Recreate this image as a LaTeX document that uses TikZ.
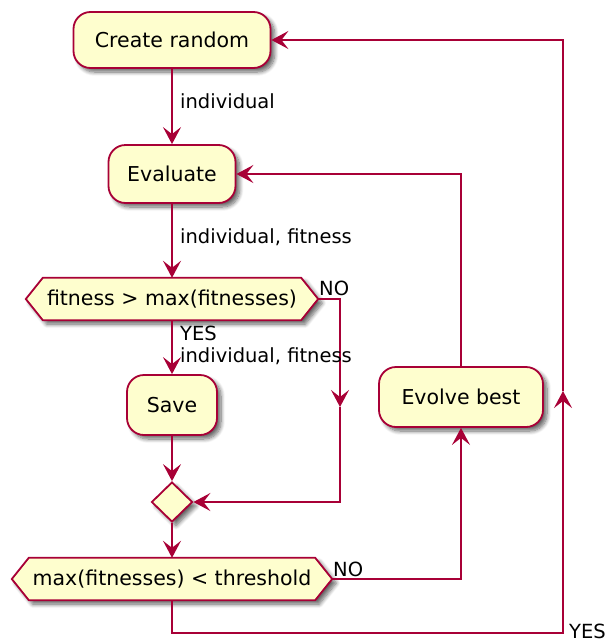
\documentclass[tikz,border=0pt]{standalone}
\usepackage{fontspec}
\setmainfont{DejaVu Sans}
\usetikzlibrary{arrows.meta,shapes.geometric,shadows.blur,backgrounds,calc}
\definecolor{pumlborder}{HTML}{A80036}
\definecolor{pumlfill}{HTML}{FEFECE}
\tikzset{
  shad/.style={blur shadow={shadow xshift=4pt,shadow yshift=-4pt,shadow blur radius=4pt,shadow blur steps=8,shadow opacity=60}},
  actbox/.style={draw=pumlborder,fill=pumlfill,line width=1.8pt,rounded corners=17pt,
    inner sep=0pt,font=\fontsize{20.5}{24}\selectfont,shad},
  hexnode/.style={inner sep=0pt,font=\fontsize{20.5}{24}\selectfont},
  hexshape/.style={draw=pumlborder,fill=pumlfill,line width=1.8pt,shad},
  merge/.style={diamond,draw=pumlborder,fill=pumlfill,line width=1.8pt,inner sep=0pt,
    minimum width=41pt,minimum height=40pt,shad},
  flow/.style={draw=pumlborder,line width=1.8pt,-{Stealth[length=17pt,width=18pt,inset=7pt]}},
  lbl/.style={inner sep=0pt,font=\fontsize{19.5}{22}\selectfont}
}
\begin{document}
\begin{tikzpicture}[x=1pt,y=-1pt]
\useasboundingbox (0,0) rectangle (610,643);

% nodes
\node[actbox,minimum width=197pt,minimum height=56pt] (cr) at (172,40) {Create random};
\node[actbox,minimum width=127pt,minimum height=58pt] (ev) at (172,174) {Evaluate};
\node[hexnode,minimum width=292pt,minimum height=42pt] (d1) at (172,299) {fitness > max(fitnesses)};
\node[actbox,minimum width=90pt,minimum height=60pt] (sv) at (172,405) {Save};
\node[merge] (mg) at (172,502) {};
\node[hexnode,minimum width=320pt,minimum height=42pt] (d2) at (172,579) {max(fitnesses) < threshold};
\node[actbox,minimum width=164pt,minimum height=60pt] (eb) at (461,397) {Evolve best};

\begin{scope}[on background layer]
\path[hexshape] (d1.west) -- ($(d1.north west)+(17,0)$) -- ($(d1.north east)+(-17,0)$) -- (d1.east)
  -- ($(d1.south east)+(-17,0)$) -- ($(d1.south west)+(17,0)$) -- cycle;
\path[hexshape] (d2.west) -- ($(d2.north west)+(17,0)$) -- ($(d2.north east)+(-17,0)$) -- (d2.east)
  -- ($(d2.south east)+(-17,0)$) -- ($(d2.south west)+(17,0)$) -- cycle;
\end{scope}

\coordinate (c1) at (340,407);
\coordinate (c2) at (563,391);
\coordinate (b1) at (172,633);

% connectors
\draw[flow] (cr.south) -- (ev.north);
\draw[flow] (ev.south) -- (d1.north);
\draw[flow] (d1.south) -- (sv.north);
\draw[flow] (sv.south) -- (mg.north);
\draw[flow] (d1.east) -| (c1);
\draw[flow] (c1) |- (mg.east);
\draw[flow] (mg.south) -- (d2.north);
\draw[flow] (d2.east) -| (eb.south);
\draw[flow] (eb.north) |- (ev.east);
\draw[flow] (d2.south) -- (b1) -| (c2);
\draw[flow] (c2) |- (cr.east);

% labels
\node[lbl,anchor=west] (l1) at (180,101) {individual};
\node[lbl,anchor=west] (l2) at (180,237) {individual, fitness};
\node[lbl,anchor=west] (l3) at (180,333) {YES};
\node[lbl,anchor=west] (l4) at (180,356) {individual, fitness};
\node[lbl,anchor=west] (l5) at (319,288) {NO};
\node[lbl,anchor=west] (l6) at (333,569) {NO};
\node[lbl,anchor=west] (l7) at (569,631) {YES};
\end{tikzpicture}
\end{document}
